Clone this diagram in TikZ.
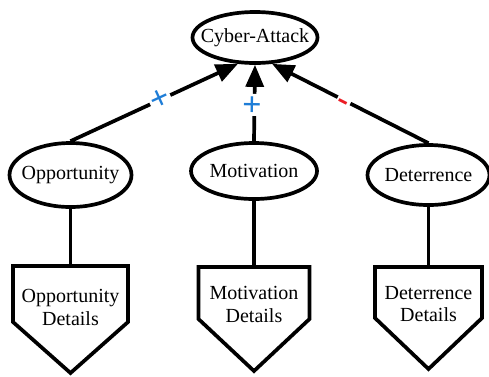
\documentclass[tikz,border=0pt]{standalone}
\usepackage{fontspec}
\setmainfont{Liberation Serif}
\usetikzlibrary{arrows.meta,shapes.geometric}
\definecolor{plusblue}{RGB}{30,125,215}
\definecolor{minusred}{RGB}{235,28,36}
\begin{document}
\begin{tikzpicture}[x=1pt,y=-1pt,
  factor/.style={draw, ellipse, line width=3.7pt, inner sep=0pt,
                 font=\fontsize{20}{22.5}\selectfont},
  detail/.style={align=center, inner sep=0pt, font=\fontsize{20}{22.5}\selectfont},
  outline/.style={line width=3.7pt, line join=miter},
  link/.style={line width=3.7pt},
  influence/.style={line width=3.7pt, -{Triangle[length=22pt,width=18pt]}},
  sign/.style={sloped, fill=white, inner sep=1.3pt,
               font=\fontsize{34}{34}\selectfont\bfseries},
]
\useasboundingbox (0,0) rectangle (489,376);

% factors
\node[factor, minimum width=125pt, minimum height=51pt] (attack) at (255,37.5) {\makebox[0pt]{Cyber-Attack}};
\node[factor, minimum width=122pt, minimum height=64pt] (opp) at (70.5,175) {\makebox[0pt]{Opportunity}};
\node[factor, minimum width=126pt, minimum height=56pt] (mot) at (254,171) {\makebox[0pt]{Motivation}};
\node[factor, minimum width=122pt, minimum height=60pt] (det) at (428.5,175) {\makebox[0pt]{Deterrence}};

% influences on the attack, with their signs
\draw[influence] (opp.north) -- node[sign, pos=0.536, text=plusblue] {+} (attack.237);
\draw[influence] (mot.north) -- node[sign, pos=0.475, text=plusblue] {+} (attack.south);
\draw[influence] (det.north) -- node[sign, pos=0.54, text=minusred] {\vphantom{+}-} (attack.303);

% detail blocks
\node[detail] (oppd) at (70.5,307.5) {Opportunity\\Details};
\coordinate (oppd-top) at (70.5,266);
\draw[outline] (13,266) -- (128,266) -- (128,322) -- (70.5,373) -- (13,322) -- cycle;

\node[detail] (motd) at (254,304.5) {Motivation\\Details};
\coordinate (motd-top) at (254,267);
\draw[outline] (198.5,267) -- (309.5,267) -- (309.5,319) -- (254,371) -- (198.5,319) -- cycle;

\node[detail] (detd) at (428.5,304) {Deterrence\\Details};
\coordinate (detd-top) at (428.5,267);
\draw[outline] (375,267) -- (482,267) -- (482,318) -- (428.5,369) -- (375,318) -- cycle;

% factor to details
\draw[link] (opp.south) -- (oppd-top);
\draw[link] (mot.south) -- (motd-top);
\draw[link] (det.south) -- (detd-top);
\end{tikzpicture}
\end{document}
